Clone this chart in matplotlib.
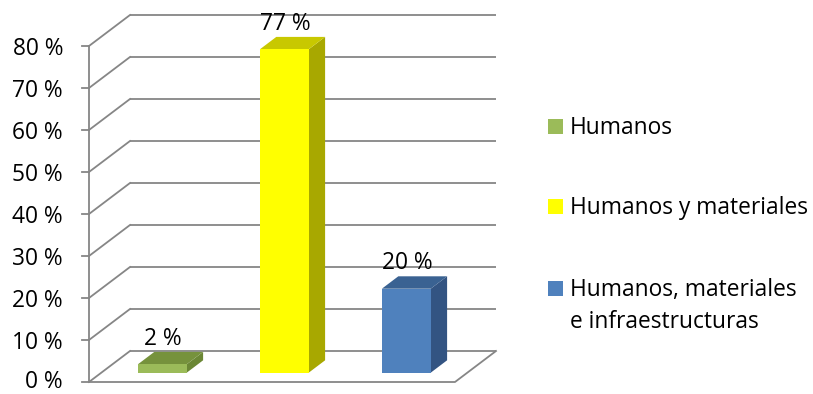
import matplotlib
matplotlib.use("Agg")
import matplotlib.pyplot as plt
from matplotlib.patches import Polygon, Rectangle

plt.rcParams['font.family'] = ['Open Sans', 'DejaVu Sans']

# data
categories = ["Humanos", "Humanos y materiales", "Humanos, materiales\ne infraestructuras"]
values = [2, 77, 20]
y_ticks = [0, 10, 20, 30, 40, 50, 60, 70, 80]

front_colors = ["#9BBB59", "#FFFF00", "#4F81BD"]
top_colors = ["#76923C", "#C8C800", "#3A6292"]
side_colors = ["#6B8735", "#A8A800", "#335482"]

# pseudo-3d layout (category units / percent units)
PX_CAT = 122.0      # pixels per category slot
PX_PCT = 4.2        # pixels per percent
ORIGIN = (89, 382)  # pixel position of the front-left floor corner
DX = 41 / PX_CAT    # depth offset, x
DY = 31 / PX_PCT    # depth offset, y
D0, D1 = 0.3, 0.7   # front/back depth of the bars
BAR_W = 0.40
BAR_GAP = 0.30
GRID = "#868686"
FS = 16.4

W, H = 813, 394
fig = plt.figure(figsize=(W / 100, H / 100), dpi=100)
ax = fig.add_axes([0, 0, 1, 1])
ax.set_xlim(-ORIGIN[0] / PX_CAT, (W - ORIGIN[0]) / PX_CAT)
ax.set_ylim((ORIGIN[1] - H) / PX_PCT, ORIGIN[1] / PX_PCT)
ax.axis("off")

n = len(categories)
ymax = y_ticks[-1]


def proj(x, y, d):
    return (x + d * DX, y + d * DY)


# walls and floor
for v in y_ticks:
    # back wall gridline
    ax.plot([proj(0, v, 1)[0], proj(n, v, 1)[0]], [proj(0, v, 1)[1]] * 2,
            color=GRID, lw=1.3, solid_capstyle="butt", zorder=1)
    # side wall diagonal
    ax.plot([0, DX], [v, v + DY], color=GRID, lw=1.3, zorder=1)
    # tick mark
    ax.plot([-7 / PX_CAT, 0], [v, v], color=GRID, lw=1.3, zorder=1)
    # keep the bottom label inside the canvas
    drop = 6 if v == 0 else 9
    ax.text(-26 / PX_CAT, v - drop / PX_PCT, f"{v} %", ha="right", va="baseline", fontsize=FS)

ax.plot([0, 0], [0, ymax], color=GRID, lw=1.3, zorder=1)
ax.plot([0, n, n + DX], [0, 0, DY], color=GRID, lw=1.3, zorder=1)

# bars
for i, v in enumerate(values):
    x0 = i + BAR_GAP
    x1 = x0 + BAR_W
    base = 0
    front = [proj(x0, base, D0), proj(x1, base, D0), proj(x1, v, D0), proj(x0, v, D0)]
    top = [proj(x0, v, D0), proj(x1, v, D0), proj(x1, v, D1), proj(x0, v, D1)]
    side = [proj(x1, base, D0), proj(x1, base, D1), proj(x1, v, D1), proj(x1, v, D0)]
    ax.add_patch(Polygon(side, closed=True, facecolor=side_colors[i], edgecolor="none", zorder=3))
    ax.add_patch(Polygon(top, closed=True, facecolor=top_colors[i], edgecolor="none", zorder=3))
    ax.add_patch(Polygon(front, closed=True, facecolor=front_colors[i], edgecolor="none", zorder=4))
    cx = proj((x0 + x1) / 2, 0, D0)[0] + 1 / PX_CAT
    ax.text(cx, v + D1 * DY + 7 / PX_PCT, f"{v} %", ha="center", va="baseline",
            fontsize=FS, zorder=5)

# legend
leg_x = (548 - ORIGIN[0]) / PX_CAT
sq_w = 15 / PX_CAT
sq_h = 15 / PX_PCT
text_x = (570 - ORIGIN[0]) / PX_CAT
row_px = [126, 206, 288]
line_px = 32
for i, label in enumerate(categories):
    yc = (ORIGIN[1] - row_px[i]) / PX_PCT
    ax.add_patch(Rectangle((leg_x, yc - sq_h / 2), sq_w, sq_h,
                           facecolor=front_colors[i], edgecolor="none"))
    for k, line in enumerate(label.split("\n")):
        ax.text(text_x, yc - (8 + k * line_px) / PX_PCT, line, ha="left",
                va="baseline", fontsize=FS)

fig.savefig("out.png", dpi=100)
